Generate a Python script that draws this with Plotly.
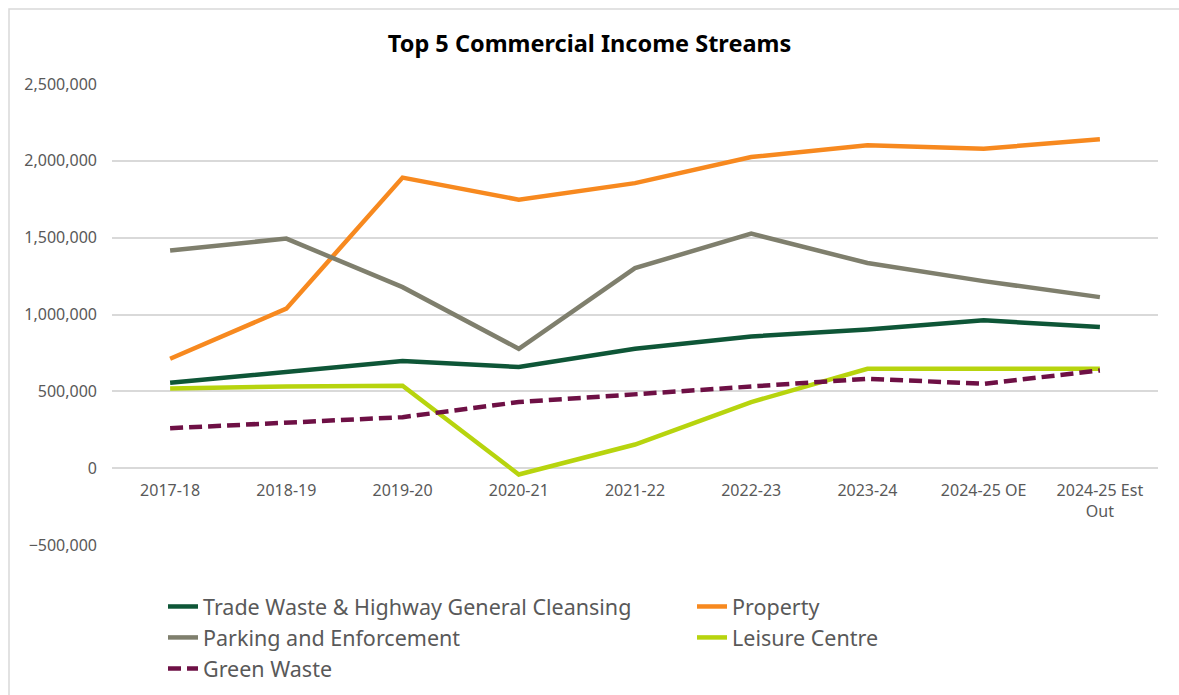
import plotly.graph_objects as go

# Financial years shown along the category axis
years = ["2017-18", "2018-19", "2019-20", "2020-21", "2021-22",
         "2022-23", "2023-24", "2024-25 OE", "2024-25 Est<br>Out"]

# Income per stream (GBP)
trade_waste = [556000, 630000, 697000, 658000, 777000, 857000, 903000, 962000, 918000]
property_income = [712000, 1038000, 1891000, 1747000, 1855000, 2025000, 2101000, 2079000, 2140000]
parking = [1417000, 1494000, 1178000, 777000, 1302000, 1526000, 1335000, 1217000, 1113000]
leisure = [519000, 532000, 536000, -41000, 154000, 430000, 647000, 647000, 647000]
green_waste = [260000, 293000, 332000, 430000, 480000, 527000, 582000, 549000, 636000]

y_ticks = [-500000, 0, 500000, 1000000, 1500000, 2000000, 2500000]
y_range = [-500000, 2500000]

FONT = "Noto Sans"
TEXT_GREY = "#595959"
GRID = "#D9D9D9"

# (name, values, colour, dash, legend column)
series = [
    ("Trade Waste & Highway General Cleansing", trade_waste, "#0E5637", "solid", "legend"),
    ("Property", property_income, "#F7891F", "solid", "legend2"),
    ("Parking and Enforcement", parking, "#7F7F6D", "solid", "legend"),
    ("Leisure Centre", leisure, "#B7D40E", "solid", "legend2"),
    ("Green Waste", green_waste, "#6E1045", "13px,6px", "legend"),
]

fig = go.Figure()
for name, vals, colour, dash, leg in series:
    fig.add_trace(go.Scatter(
        x=years, y=vals, name=name, mode="lines", legend=leg,
        line=dict(color=colour, width=4.5, dash=dash),
    ))

L, R, T, B = 112, 21, 84, 150
W, H = 1179, 695
pw, ph = W - L - R, H - T - B


def px_x(px):
    return (px - L) / pw


def px_y(py):
    return (H - B - py) / ph


# category labels sit along the zero value line
zero_pos = (0 - y_range[0]) / (y_range[1] - y_range[0])

legend_style = dict(
    orientation="v", yanchor="top", xanchor="left",
    font=dict(family=FONT, size=21.5, color=TEXT_GREY),
    bgcolor="rgba(0,0,0,0)", traceorder="normal",
    tracegroupgap=0,
)

fig.update_layout(
    width=W, height=H,
    margin=dict(l=L, r=R, t=T, b=B, autoexpand=False),
    paper_bgcolor="white", plot_bgcolor="white",
    font=dict(family=FONT, color=TEXT_GREY, size=16),
    title=dict(
        text="<b>Top 5 Commercial Income Streams</b>",
        x=0.5, xanchor="center", y=1 - 44 / H, yanchor="middle",
        font=dict(family=FONT, size=23.5, color="#000000"),
    ),
    showlegend=True,
    legend=dict(x=px_x(163), y=px_y(586), **legend_style),
    legend2=dict(x=px_x(692), y=px_y(586), **legend_style),
    xaxis=dict(
        type="category", range=[-0.5, len(years) - 0.5],
        anchor="free", position=zero_pos,
        showgrid=False, showline=False, zeroline=False,
        ticks="", tickfont=dict(size=16, color=TEXT_GREY),
        ticklabelstandoff=11,
    ),
    yaxis=dict(
        range=y_range, tickvals=y_ticks,
        tickformat=",d", showgrid=True, gridcolor=GRID, gridwidth=1.5,
        zeroline=True, zerolinecolor=GRID, zerolinewidth=1.5,
        showline=False, ticks="", tickfont=dict(size=16, color=TEXT_GREY),
        ticklabelstandoff=14,
    ),
    shapes=[dict(
        type="rect", xref="paper", yref="paper",
        x0=px_x(9), x1=px_x(W + 20),
        y0=px_y(H + 20), y1=px_y(9),
        line=dict(color=GRID, width=1.5), fillcolor="rgba(0,0,0,0)",
        layer="below",
    )],
)

fig.write_html("out.html")
